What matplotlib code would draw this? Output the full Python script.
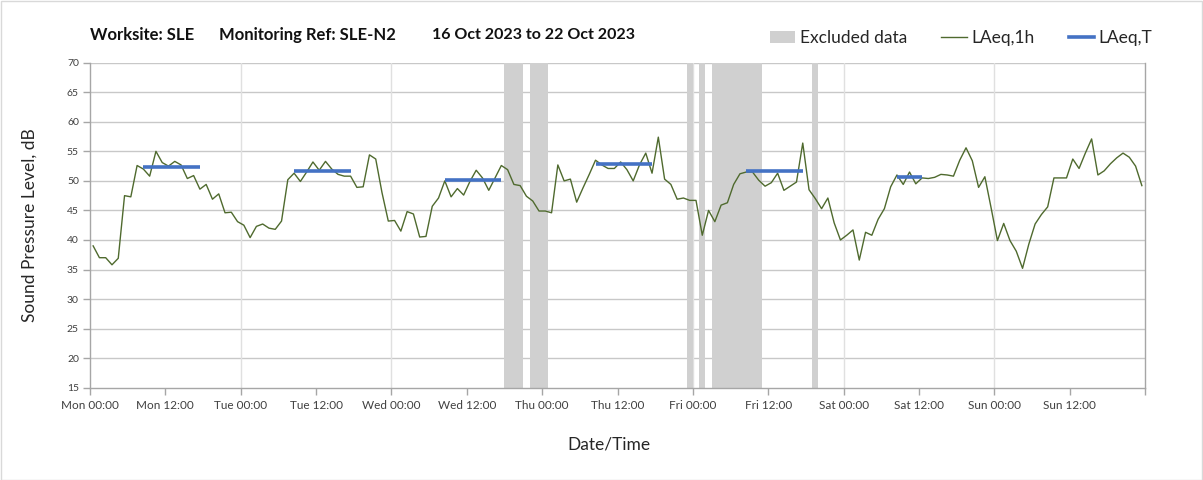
import numpy as np
import matplotlib
matplotlib.use("Agg")
import matplotlib.pyplot as plt
from matplotlib.patches import Patch, Rectangle
from matplotlib.lines import Line2D

# ---------------- data ----------------
# Hourly LAeq,1h values, Mon 00:00 (16 Oct 2023) .. Sun 23:00 (22 Oct 2023)
laeq_1h = [
    39.0, 37.0, 37.0, 35.8, 36.9, 47.5, 47.3, 52.6, 52.0, 50.8, 55.0, 53.1,
    52.5, 53.3, 52.7, 50.4, 50.9, 48.6, 49.4, 46.9, 47.8, 44.6, 44.7, 43.1,
    42.5, 40.4, 42.3, 42.7, 42.0, 41.8, 43.2, 50.2, 51.3, 49.9, 51.5, 53.2,
    51.8, 53.3, 52.0, 51.1, 50.8, 50.8, 48.9, 49.0, 54.4, 53.7, 48.0,
    43.2, 43.3, 41.5, 44.8, 44.4, 40.5, 40.6, 45.7, 47.1, 50.0, 47.3, 48.7,
    47.6, 49.9, 51.8, 50.5, 48.4, 50.5, 52.6, 51.9, 49.4, 49.2, 47.4, 46.6,
    44.9, 44.9, 44.6, 52.7, 50.0, 50.3, 46.4, 48.8, 51.1, 53.5, 52.7, 52.1,
    52.1, 53.2, 51.9, 50.0, 52.7, 54.7, 51.3, 57.4, 50.3, 49.4, 46.9,
    47.1, 46.7, 46.7, 40.8, 45.0, 43.1, 45.9, 46.3, 49.4, 51.2, 51.5, 51.5,
    50.1, 49.1, 49.7, 51.3, 48.4, 49.1, 49.8, 56.4, 48.5, 47.0, 45.3, 47.1,
    42.9, 40.0, 40.8, 41.7, 36.6, 41.3, 40.8, 43.5, 45.3, 49.0, 51.0, 49.4,
    51.5, 49.5, 50.5, 50.4,
    50.6, 51.1, 51.0, 50.8, 53.5, 55.6, 53.4, 48.9, 50.7, 45.4, 39.9, 42.8,
    39.9, 38.1, 35.2, 39.3, 42.7, 44.3, 45.6, 50.5, 50.5, 50.5, 53.7, 52.1,
    54.7, 57.1, 51.0, 51.7, 52.9, 53.9, 54.7, 54.0, 52.5, 49.2,
]

# LAeq,T daytime periods: start hour, end hour (hours from Mon 00:00), level
laeq_t_start = [8, 32, 56, 80, 104, 128]
laeq_t_end = [18, 42, 66, 90, 114, 133]
laeq_t_value = [52.4, 51.7, 50.1, 52.9, 51.6, 50.6]

# Excluded data periods (hours from Mon 00:00)
excl_start = [66, 70, 95, 97, 99, 115]
excl_end = [69, 73, 96, 98, 107, 116]

tick_labels = ["Mon 00:00", "Mon 12:00", "Tue 00:00", "Tue 12:00",
               "Wed 00:00", "Wed 12:00", "Thu 00:00", "Thu 12:00",
               "Fri 00:00", "Fri 12:00", "Sat 00:00", "Sat 12:00",
               "Sun 00:00", "Sun 12:00", ""]

title_parts = ["Worksite: SLE", "Monitoring Ref: SLE-N2", "16 Oct 2023 to 22 Oct 2023"]

# ---------------- plot ----------------
plt.rcParams['font.family'] = ['Lato', 'DejaVu Sans']

W, H = 1203, 480
fig = plt.figure(figsize=(W / 100, H / 100), dpi=100)
ax = fig.add_axes([90 / W, 1 - 387.7 / H, (1145 - 90) / W, (387.7 - 62.7) / H])

excl_color = "#d0d0d0"
for s, e in zip(excl_start, excl_end):
    ax.axvspan(s, e, color=excl_color, lw=0, zorder=1)

hours = np.arange(len(laeq_1h)) + 0.5
ax.plot(hours, laeq_1h, color="#4f6a2e", lw=1.0, zorder=3)

for s, e, v in zip(laeq_t_start, laeq_t_end, laeq_t_value):
    ax.plot([s + 0.5, e - 0.5], [v, v], color="#4472c4", lw=2.6,
            solid_capstyle="butt", zorder=4)

ax.set_xlim(0, 168)
ax.set_ylim(15, 70)
ax.set_yticks(np.arange(15, 71, 5))
ax.set_xticks(np.arange(0, 169, 12))
ax.set_xticklabels(tick_labels)

# grid
for y in np.arange(20, 71, 5):
    ax.axhline(y, color="#c8c8c8", lw=1.0, zorder=0.5)
for x in np.arange(24, 168, 24):
    ax.axvline(x, color="#e0e0e0", lw=1.0, zorder=0.5)

ax.spines["top"].set_visible(False)
for side in ["left", "bottom", "right"]:
    ax.spines[side].set_color("#a6a6a6")
    ax.spines[side].set_linewidth(1.0)

ax.tick_params(axis="both", direction="out", length=5, width=1.0,
               color="#a6a6a6", labelcolor="#404040", labelsize=8.5)
ax.tick_params(axis="x", pad=4)
ax.tick_params(axis="y", pad=3, labelsize=7.5)

ax.set_ylabel("Sound Pressure Level, dB", fontsize=12.5, color="#262626", labelpad=21)
ax.set_xlabel("Date/Time", fontsize=12.5, color="#262626", labelpad=18,
              x=(609 - 90) / (1145 - 90))

title_x = [90, 219, 432]
title_size = [12, 12, 11.5]
for txt, x, fs in zip(title_parts, title_x, title_size):
    fig.text(x / W, 1 - 35 / H, txt, fontsize=fs, fontweight="bold",
             color="#111111", va="center", ha="left")

handles = [Patch(facecolor=excl_color, edgecolor="none"),
           Line2D([], [], color="#4f6a2e", lw=1.0),
           Line2D([], [], color="#4472c4", lw=2.6)]
labels = ["Excluded data", "LAeq,1h", "LAeq,T"]
fig.legend(handles, labels, loc="center left",
           bbox_to_anchor=(770 / W, 1 - 38 / H), ncol=3, frameon=False,
           fontsize=12.5, handlelength=1.45, handletextpad=0.25,
           columnspacing=2.0, borderaxespad=0, borderpad=0,
           labelcolor="#262626")

fig.add_artist(Rectangle((0.0008, 0.001), 0.9984, 0.997, transform=fig.transFigure,
                         fill=False, edgecolor="#d9d9d9", lw=1.0))

fig.savefig("out.png", dpi=100)
